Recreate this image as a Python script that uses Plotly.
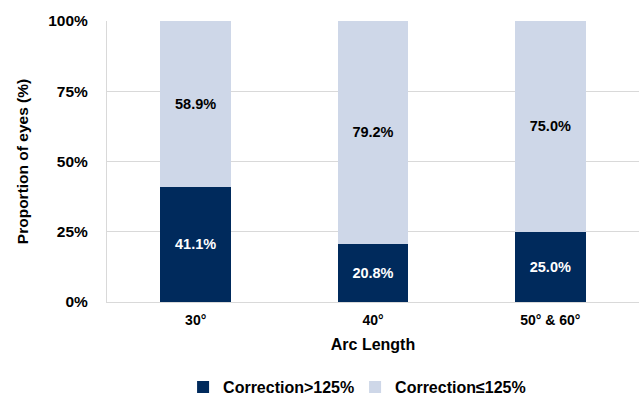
import plotly.graph_objects as go

categories = ["30°", "40°", "50° & 60°"]
over_125 = [41.1, 20.8, 25.0]
under_125 = [58.9, 79.2, 75.0]
series_names = ["Correction>125%", "Correction≤125%"]
tick_vals = [0, 25, 50, 75, 100]
tick_text = ["0%", "25%", "50%", "75%", "100%"]

DARK = "#002A5C"
LIGHT = "#CED7E8"
GRID = "#D9D9D9"
FONT = "Liberation Sans, Arial, sans-serif"

fig = go.Figure()
fig.add_trace(go.Bar(
    x=categories, y=over_125, name=series_names[0],
    marker=dict(color=DARK, line=dict(width=0)),
    text=[f"{v:.1f}%" for v in over_125], textposition="inside",
    insidetextanchor="middle",
    textfont=dict(color="white", size=14.5, family=FONT, weight="bold"),
    width=0.4,
))
fig.add_trace(go.Bar(
    x=categories, y=under_125, name=series_names[1],
    marker=dict(color=LIGHT, line=dict(width=0)),
    text=[f"{v:.1f}%" for v in under_125], textposition="inside",
    insidetextanchor="middle",
    textfont=dict(color="black", size=14.5, family=FONT, weight="bold"),
    width=0.4,
))

fig.update_layout(
    barmode="stack",
    width=639, height=399,
    margin=dict(l=107, r=0, t=21, b=97, autoexpand=False),
    plot_bgcolor="white", paper_bgcolor="white",
    font=dict(family=FONT, size=14, color="black", weight="bold"),
    showlegend=True,
    legend=dict(orientation="h", x=0.143, xanchor="left", y=-0.303, yanchor="middle",
                font=dict(size=16, family=FONT, weight="bold"),
                traceorder="normal", itemwidth=30,
                entrywidth=127, entrywidthmode="pixels"),
    uniformtext=dict(minsize=8, mode="show"),
)
fig.update_xaxes(
    showline=True, linecolor=GRID, linewidth=1,
    ticks="", ticklabelstandoff=5,
    tickfont=dict(size=14, family=FONT, weight="bold"),
    title=dict(text="Arc Length", font=dict(size=16, family=FONT, weight="bold"), standoff=12),
)
fig.update_yaxes(
    range=[0, 100], tickvals=tick_vals, ticktext=tick_text,
    showgrid=True, gridcolor=GRID, gridwidth=1,
    showline=True, linecolor=GRID, linewidth=1,
    zeroline=False, ticks="", ticklabelstandoff=15,
    tickfont=dict(size=15.5, family=FONT, weight="bold"),
    title=dict(text="Proportion of eyes (%)", font=dict(size=15.5, family=FONT, weight="bold"), standoff=15),
)

fig.write_html("out.html")
